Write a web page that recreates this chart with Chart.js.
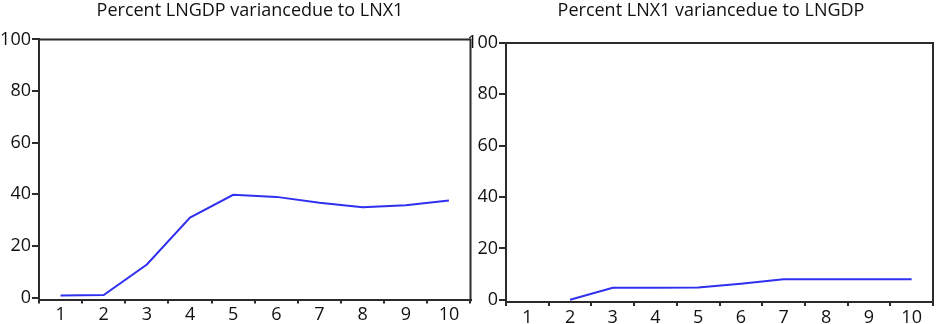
<!DOCTYPE html>
<html>
<head>
<meta charset="utf-8">
<script src="https://cdn.jsdelivr.net/npm/chart.js@4/dist/chart.umd.min.js"></script>
<style>
  html, body { margin: 0; padding: 0; background: #ffffff; width: 936px; height: 324px; overflow: hidden; position: relative; }
  canvas { position: absolute; left: 0; top: 0; }
</style>
</head>
<body>
<canvas id="c1" width="936" height="324"></canvas>
<canvas id="c2" width="960" height="324"></canvas>
<script>
// ---- data ----
const periods = ['1', '2', '3', '4', '5', '6', '7', '8', '9', '10'];
const lngdpDueToLnx1 = [0.8, 1.0, 12.8, 31.0, 39.8, 39.0, 36.7, 35.0, 35.8, 37.6];
const lnx1DueToLngdp = [null, 0.0, 4.7, 4.7, 4.8, 6.3, 8.0, 8.0, 8.0, 8.0];
const yTickValues = [0, 20, 40, 60, 80, 100];
const titleLeft = 'Percent LNGDP variancedue to LNX1';
const titleRight = 'Percent LNX1 variancedue to LNGDP';

// ---- styling ----
const AXIS = '#2b2b2b';
const LINE = '#3030f0';
const FONT = "'Open Sans', sans-serif";

const frame = {
  id: 'frame',
  afterDatasetsDraw(chart) {
    const a = chart.chartArea, ctx = chart.ctx;
    ctx.save();
    ctx.strokeStyle = AXIS;
    ctx.lineWidth = 2;
    ctx.beginPath();
    ctx.moveTo(a.left, a.top);
    ctx.lineTo(a.right, a.top);
    ctx.lineTo(a.right, a.bottom + 2);
    ctx.stroke();
    ctx.restore();
  }
};

function makeChart(id, data, title, cfg) {
  return new Chart(document.getElementById(id), {
    type: 'line',
    data: {
      labels: periods,
      datasets: [{
        data: data,
        borderColor: LINE,
        borderWidth: 2,
        pointRadius: 0,
        tension: 0,
        fill: false,
        spanGaps: false
      }]
    },
    plugins: [frame],
    options: {
      responsive: false,
      devicePixelRatio: 1,
      animation: false,
      events: [],
      layout: { padding: { left: cfg.padLeft, right: cfg.padRight, top: 0, bottom: 0 } },
      plugins: {
        legend: { display: false },
        tooltip: { enabled: false },
        title: {
          display: true,
          text: title,
          color: '#111111',
          font: { family: FONT, size: 18, weight: 'normal' },
          padding: { top: 0, bottom: cfg.titleGap }
        }
      },
      scales: {
        x: {
          type: 'category',
          offset: true,
          grid: { display: true, offset: true, drawOnChartArea: false, drawTicks: true, tickLength: 4, color: AXIS, lineWidth: 2 },
          border: { display: true, color: AXIS, width: 2 },
          ticks: { color: '#111111', font: { family: FONT, size: 18 }, padding: 1, maxRotation: 0, autoSkip: false },
          afterFit(s) { s.height = cfg.xHeight; }
        },
        y: {
          min: cfg.yMin,
          max: 100,
          grid: { display: true, drawOnChartArea: false, drawTicks: true, tickLength: 7, color: AXIS, lineWidth: 2 },
          border: { display: true, color: AXIS, width: 2 },
          ticks: { color: '#111111', font: { family: FONT, size: 18 }, padding: 1 },
          afterBuildTicks(s) { s.ticks = yTickValues.map(v => ({ value: v })); },
          afterFit(s) { s.width = cfg.yWidth; }
        },
        spacer: {
          type: 'linear',
          position: 'right',
          display: true,
          grid: { display: false },
          border: { display: false },
          ticks: { display: false },
          afterFit(s) { s.width = cfg.spacerWidth; }
        }
      }
    }
  });
}

// left panel: title box spans 0..500 (centre 250); plot area 39..470.5
makeChart('c1', lngdpDueToLnx1, titleLeft, {
  padLeft: 0, padRight: 436, yWidth: 39, spacerWidth: 29.5, xHeight: 24.5, titleGap: 17.8, yMin: -0.75
});
// right panel: title box spans 469..953 (centre 711); plot area 506..933
makeChart('c2', lnx1DueToLngdp, titleRight, {
  padLeft: 469, padRight: 7, yWidth: 37, spacerWidth: 20, xHeight: 22, titleGap: 21.4, yMin: -0.85
});
</script>
</body>
</html>
